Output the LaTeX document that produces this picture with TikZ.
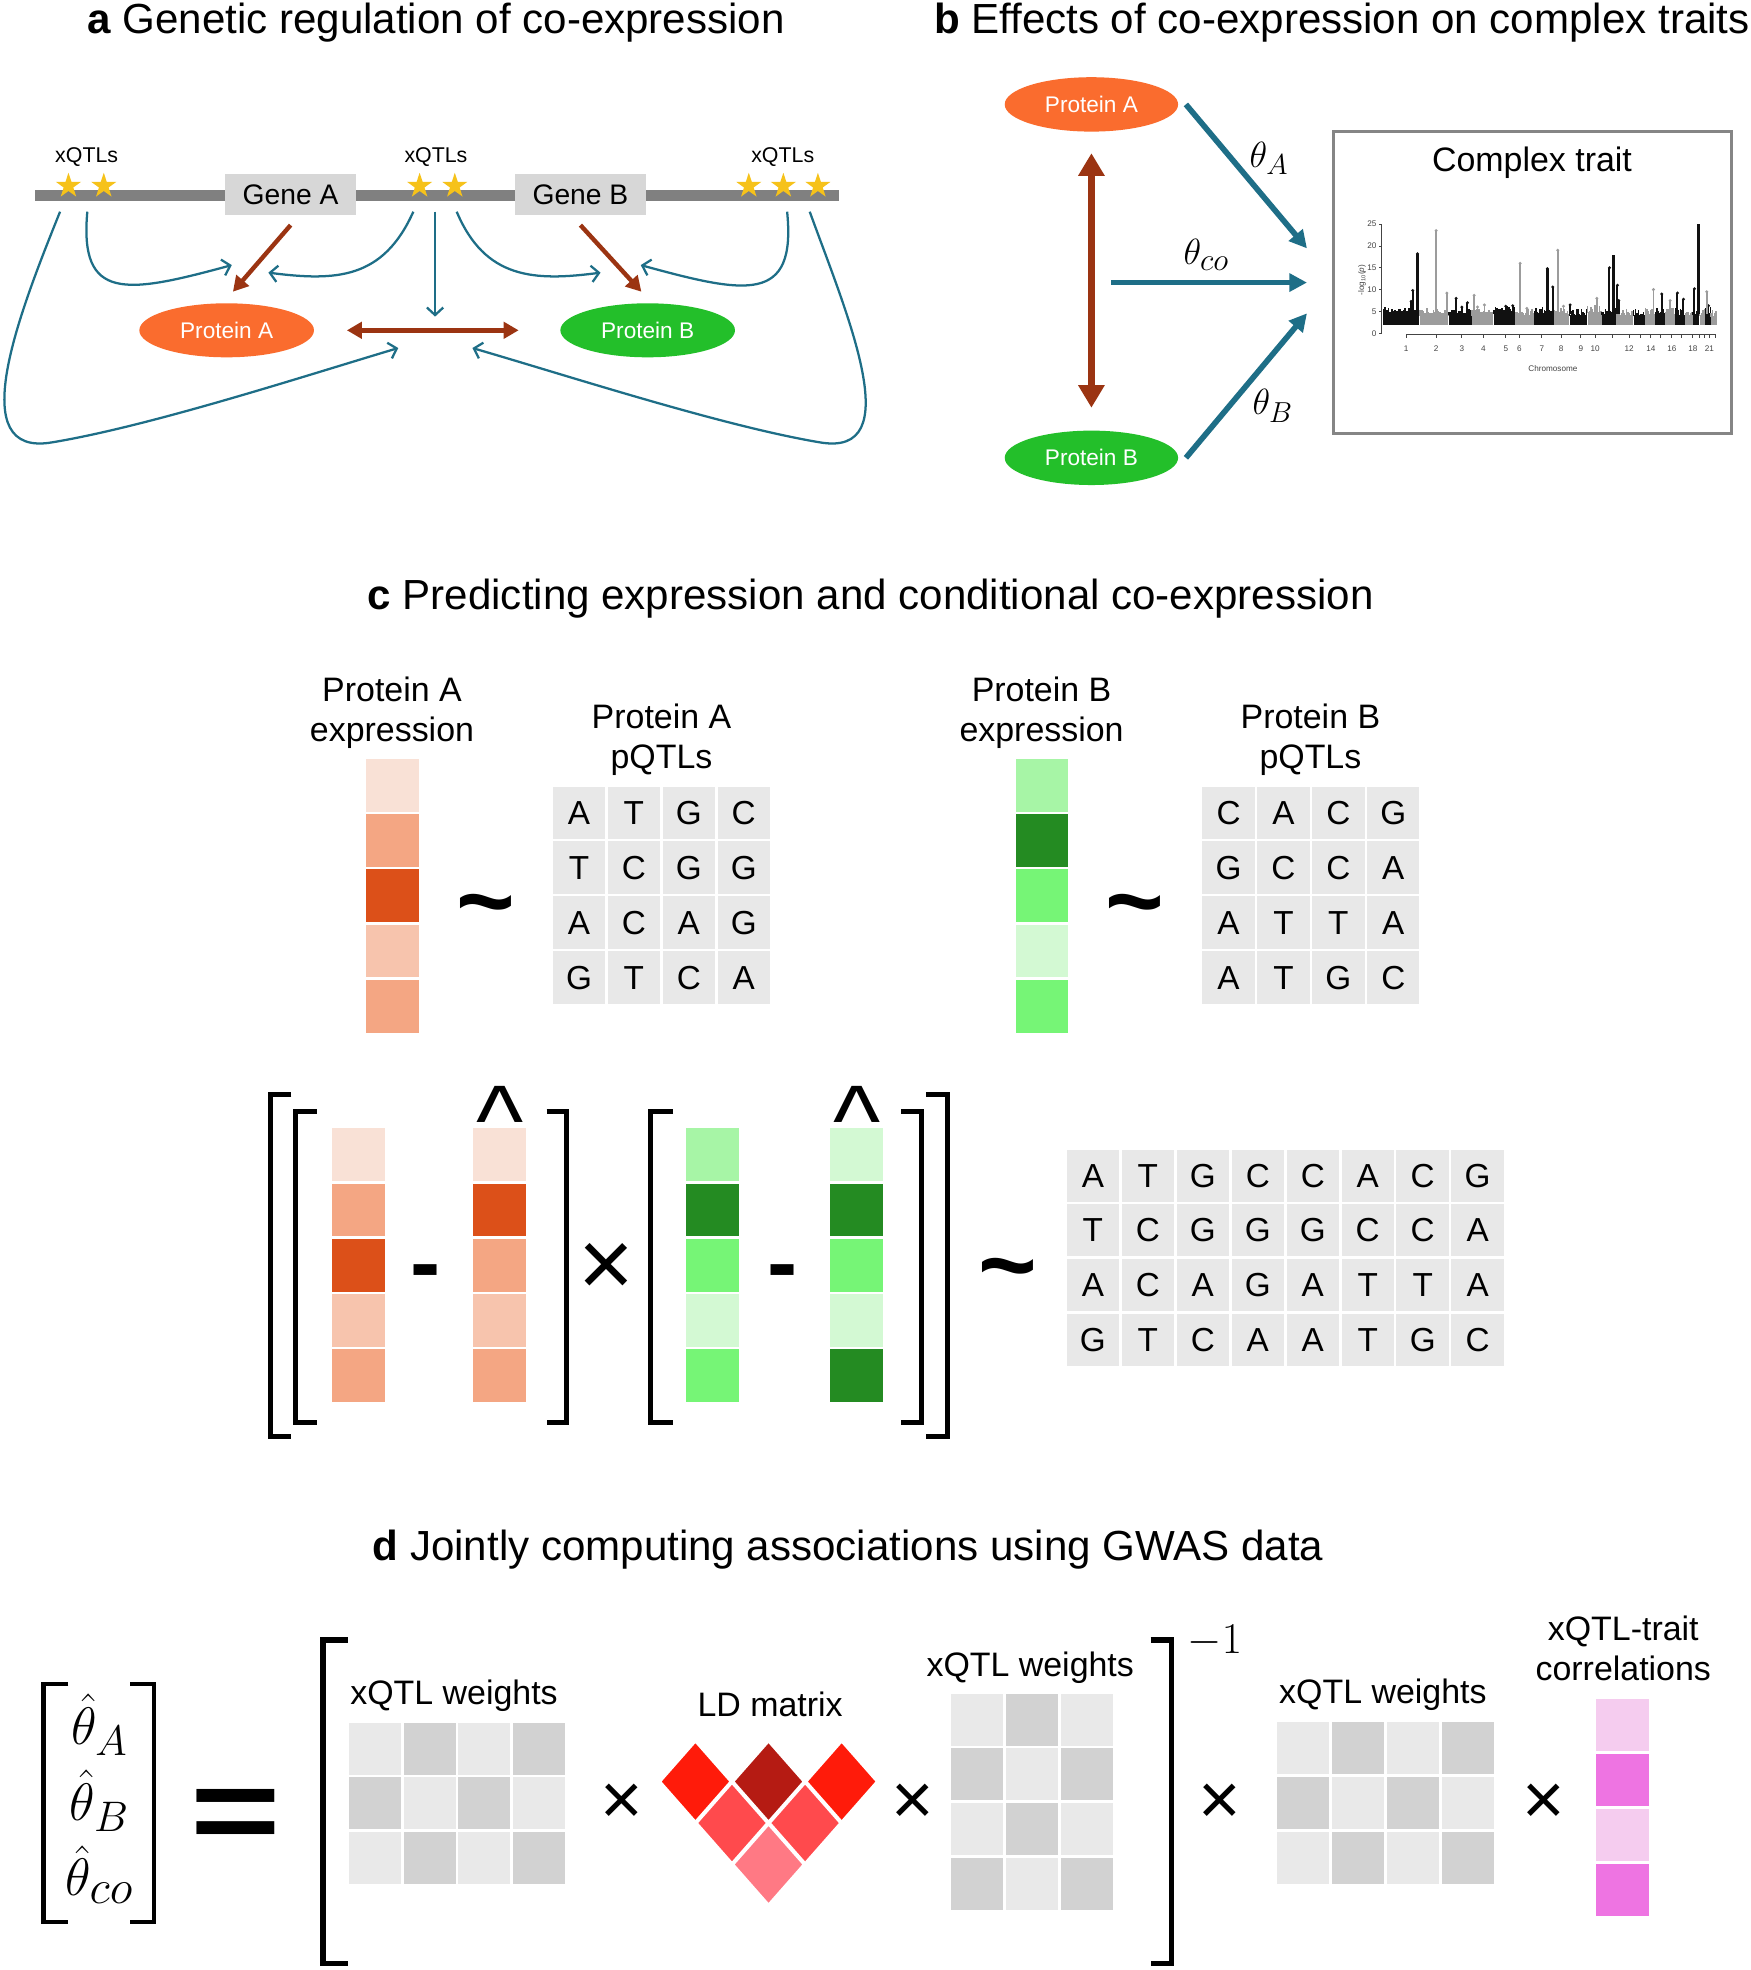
\RequirePackage{fix-cm}
\documentclass[tikz,border=0pt]{standalone}
\usepackage[no-math]{fontspec}
\setmainfont{Liberation Sans}
\usetikzlibrary{shapes.geometric,arrows.meta,calc}

\definecolor{tealc}{HTML}{1E6E87}
\definecolor{brownc}{HTML}{9B3412}
\definecolor{orP}{HTML}{FA6C2E}
\definecolor{grP}{HTML}{23BF2A}
\definecolor{starY}{HTML}{F6C21A}
\definecolor{barG}{HTML}{808080}
\definecolor{geneG}{HTML}{D7D7D7}
\definecolor{cellG}{HTML}{E8E8E8}
\definecolor{wDark}{HTML}{D2D2D2}
\definecolor{wLight}{HTML}{E9E9E9}
\definecolor{or1}{HTML}{F9E1D6}
\definecolor{or2}{HTML}{F4A683}
\definecolor{or3}{HTML}{DC5019}
\definecolor{or4}{HTML}{F7C4AD}
\definecolor{gr1}{HTML}{A7F5A6}
\definecolor{gr2}{HTML}{248B22}
\definecolor{gr3}{HTML}{76F576}
\definecolor{gr4}{HTML}{D3F9D3}
\definecolor{ld1}{HTML}{FF1B0A}
\definecolor{ld2}{HTML}{B51B13}
\definecolor{ld3}{HTML}{FF4A4D}
\definecolor{ld4}{HTML}{FF7984}
\definecolor{pk1}{HTML}{F5CCEF}
\definecolor{pk2}{HTML}{EE74E2}
\definecolor{boxG}{HTML}{858585}
\definecolor{mblk}{HTML}{111111}
\definecolor{mgry}{HTML}{9C9C9C}
\definecolor{axG}{HTML}{444444}

\newcommand\sbx[2]{\mbox{\fontsize{#1}{#1}\selectfont$#2$}}

\tikzset{
  ttl/.style={font=\fontsize{33.5}{40}\selectfont, anchor=base, inner sep=0},
  lbl/.style={font=\fontsize{27}{32.4}\selectfont, align=center, inner sep=0},
  lblb/.style={font=\fontsize{27}{32.4}\selectfont, anchor=base, inner sep=0},
  xq/.style={font=\fontsize{17}{20}\selectfont, anchor=base, inner sep=0},
  gene/.style={rectangle, fill=geneG, minimum width=104pt, minimum height=32.5pt, inner sep=0, font=\fontsize{22.5}{27}\selectfont},
  prot/.style={ellipse, minimum width=139pt, minimum height=43pt, inner sep=0, text=white, font=\fontsize{18}{22}\selectfont},
  qstar/.style={star, star points=5, star point ratio=2.6, fill=starY, minimum size=21pt, inner sep=0},
  tealthin/.style={draw=tealc, line width=1.8pt, -{Straight Barb[length=6pt,width=13pt]}},
  brownA/.style={draw=brownc, line width=3.5pt, -{Triangle[length=12pt,width=13pt]}},
  brownAA/.style={draw=brownc, line width=4pt, {Triangle[length=12pt,width=13pt]}-{Triangle[length=12pt,width=13pt]}},
  tealthick/.style={draw=tealc, line width=4.5pt, -{Triangle[length=14pt,width=14pt]}},
  brownB/.style={draw=brownc, line width=5pt, {Triangle[length=18pt,width=20pt]}-{Triangle[length=18pt,width=20pt]}},
  thlab/.style={font=\fontsize{29}{30}\selectfont, inner sep=0},
  gcell/.style={rectangle, fill=cellG, draw=white, line width=2pt, minimum width=43.7pt, minimum height=43.75pt, inner sep=0, font=\fontsize{26.5}{30}\selectfont},
  ccell/.style={rectangle, draw=white, line width=2pt, minimum width=44pt, minimum height=44pt, inner sep=0},
  wcell/.style={rectangle, draw=white, line width=2pt, minimum width=43.5pt, minimum height=43.5pt, inner sep=0},
  brk/.style={line width=4pt},
  ldd/.style={diamond, draw=white, line width=2.5pt, minimum width=58.2pt, minimum height=66pt, inner sep=0},
  sym/.style={inner sep=0},
  mtick/.style={font=\fontsize{6.5}{7}\selectfont, text=axG, inner sep=0},
}

\begin{document}
\begin{tikzpicture}[x=1pt,y=-1pt]
\useasboundingbox (0,0) rectangle (1393,1568);
\fill[white] (0,0) rectangle (1393,1568);

% ---------------- titles
\node[ttl] (ta) at (347,27) {\textbf{a} Genetic regulation of co-expression};
\node[ttl] (tb) at (1068,27) {\textbf{b} Effects of co-expression on complex traits};
\node[ttl] (tc) at (693,485) {\textbf{c} Predicting expression and conditional co-expression};
\node[ttl] (td) at (675,1242) {\textbf{d} Jointly computing associations using GWAS data};

% ---------------- panel a
\draw[barG, line width=8.5pt] (27.9,155.5) -- (668,155.5);
\node[gene] (gA) at (231.3,154.75) {Gene A};
\node[gene] (gB) at (462,154.75) {Gene B};
\foreach \sx [count=\i] in {54.5,82.6,334,362,596,623.5,651}
  \node[qstar] (st\i) at (\sx,148) {};
\node[xq] (xq1) at (69,129) {xQTLs};
\node[xq] (xq2) at (347,129) {xQTLs};
\node[xq] (xq3) at (623,129) {xQTLs};
\node[prot, fill=orP] (pa) at (180.4,262.9) {Protein A};
\node[prot, fill=grP] (pb) at (515.5,262.9) {Protein B};

\draw[brownA] ($(gA.south)+(0,8)$) -- ($(pa.north)+(5,-9)$);
\draw[brownA] ($(gB.south)+(0,8)$) -- ($(pb.north)+(-5,-9)$);
\draw[brownAA] ($(pa.east)+(26,0)$) -- ($(pb.west)+(-33,0)$);

\coordinate (a1s) at (69.5,168.5);  \coordinate (a1e) at (184.5,211);
\coordinate (a2s) at (329,168.5);   \coordinate (a2e) at (213.6,217);
\coordinate (a3s) at (346.3,168.5); \coordinate (a3e) at (346.3,252);
\coordinate (a4s) at (363.5,168.5); \coordinate (a4e) at (478,217);
\coordinate (a5s) at (626.5,168.5); \coordinate (a5e) at (510,211);
\coordinate (a6s) at (47.8,168.5);  \coordinate (a6e) at (317,277);
\coordinate (a7s) at (644.5,168.5); \coordinate (a7e) at (376,277);
\draw[tealthin] (a1s) .. controls (63,240) and (100,234) .. (a1e);
\draw[tealthin] (a2s) .. controls (305,222) and (268,224) .. (a2e);
\draw[tealthin] (a3s) -- (a3e);
\draw[tealthin] (a4s) .. controls (386,222) and (425,224) .. (a4e);
\draw[tealthin] (a5s) .. controls (634,242) and (594,234) .. (a5e);
\draw[tealthin] (a6s) .. controls (15,250) and (-30,365) .. (42,352) .. controls (120,339) and (240,300) .. (a6e);
\draw[tealthin] (a7s) .. controls (674,250) and (724,365) .. (652,352) .. controls (575,339) and (455,300) .. (a7e);

% ---------------- panel b
\node[prot, fill=orP, minimum width=138pt, minimum height=43.3pt] (pbA) at (868.7,83.1) {Protein A};
\node[prot, fill=grP, minimum width=138pt, minimum height=43.3pt] (pbB) at (868.7,364.4) {Protein B};
\draw[brownB] ($(pbA.south)+(0,17)$) -- ($(pbB.north)+(0,-18)$);
\node[draw=boxG, line width=2.2pt, minimum width=317pt, minimum height=240pt, inner sep=0] (trait) at (1219.85,224.9) {};
\coordinate (bAe) at ($(trait.west)+(-20,-27.2)$);
\coordinate (bCs) at (884.3,224.9);
\coordinate (bCe) at ($(trait.west)+(-20,0)$);
\coordinate (bBe) at ($(trait.west)+(-20,24.5)$);
\draw[tealthick] ($(pbA.east)+(6,0)$) -- (bAe);
\draw[tealthick] (bCs) -- (bCe);
\draw[tealthick] ($(pbB.east)+(6,0)$) -- (bBe);
\node[thlab] (thA) at (1010,126) {$\theta_{\sbx{23}{A}}$};
\node[thlab] (thC) at (960,203) {$\theta_{\sbx{25}{co}}$};
\node[thlab] (thB) at (1013,323) {$\theta_{\sbx{23}{B}}$};
\node[lblb] (ctl) at (1219.4,136.6) {Complex trait};

% Manhattan plot
\pgfmathsetseed{11}
\begin{scope}[shift={(1058.7,265.3)}, x=0.2653pt, y=3.48pt]
\foreach \a/\b/\h/\cl in {160/268/4.6/mblk, 270/355/4.3/mgry, 356/425/4.4/mblk, 426/490/4.3/mgry,
  491/555/4.8/mblk, 556/612/4.3/mgry, 613/672/4.7/mblk, 673/718/4.4/mgry, 719/772/4.3/mblk,
  773/815/4.9/mgry, 816/858/4.5/mblk, 859/910/4.2/mgry, 911/945/4.2/mblk, 946/975/4.5/mgry,
  976/1005/4.6/mblk, 1006/1035/4.5/mgry, 1036/1065/4.3/mblk, 1066/1088/4.3/mgry, 1089/1108/4.4/mblk,
  1109/1125/4.3/mgry, 1126/1142/4.6/mblk, 1143/1160/4.0/mgry}
  {\fill[\cl] (\a,1.8) rectangle (\b,\h);
   \pgfmathsetmacro\an{\a+5}
   \foreach \xx in {\a,\an,...,\b}
     {\pgfmathsetmacro\hh{\h+0.2+1.3*rnd}
      \draw[\cl, line width=1.1pt] (\xx,\h-0.3) -- (\xx,\hh);}}
\foreach \p/\v in {243/7.3, 248/9.8, 262/18.2, 378/8, 395/6, 412/7, 527/6.2, 548/6.3, 652/14.8, 668/10.6,
  720/6.5, 838/15, 862/11, 866/7.5, 995/9, 1042/9.2, 1060/7.8, 1093/10.2, 1135/6.3}
  {\draw[mblk, line width=1.6pt] (\p,4.5) -- (\p,\v); \fill[mblk] (\p,\v) circle (1.3pt);}
\foreach \p/\v in {318/23.5, 350/9.2, 432/8.7, 442/6, 463/6.5, 570/16, 590/5.7, 683/19, 700/6.2, 800/8,
  970/10, 1020/7.5, 1130/9.5}
  {\draw[mgry, line width=1.3pt] (\p,4.5) -- (\p,\v); \fill[mgry] (\p,\v) circle (1.3pt);}
\draw[mblk, line width=2.4pt] (1105,4.5) -- (1105,25);
\draw[mblk, line width=2.2pt] (850,4.5) -- (850,18);
\draw[mblk, line width=2.2pt] (262,4.5) -- (262,18.2);
\draw[mblk, line width=2pt] (652,4.5) -- (652,14.8);
\draw[axG, line width=0.5pt] (155,0) -- (155,25);
\foreach \v in {0,5,10,15,20,25}
  {\draw[axG, line width=0.5pt] (155,\v) -- ++(-2.2pt,0pt);
   \node[mtick, anchor=east] (yt\v) at ([xshift=-4pt]155,\v) {\v};}
\draw[axG, line width=0.5pt] (228,-0.25) -- (1155,-0.25);
\foreach \p in {228,318,395,460,527,568,635,693,752,795,848,897,930,962,992,1025,1055,1088,1108,1122,1138,1155}
  \draw[axG, line width=0.5pt] (\p,-0.25) -- ++(0pt,-2.5pt);
\foreach \p/\t in {228/1,318/2,395/3,460/4,527/5,568/6,635/7,693/8,752/9,795/10,897/12,962/14,1025/16,1088/18,1138/21}
  \node[mtick, anchor=north] (xt\t) at ([yshift=-9pt]\p,-0.25) {\t};
\end{scope}
\node[mtick] (chrl) at (1236,293.7) {Chromosome};
\node[mtick, rotate=90] (ylab) at (1084,223) {-log\textsubscript{10}(\textit{p})};

% ---------------- panel c (top)
\node[lbl] (lea) at (312,567.2) {Protein A\\expression};
\node[lbl] (lqa) at (526.5,588.7) {Protein A\\pQTLs};
\node[lbl] (leb) at (829,567.2) {Protein B\\expression};
\node[lbl] (lqb) at (1043,588.7) {Protein B\\pQTLs};
\foreach \cl [count=\i from 0] in {or1,or2,or3,or4,or2}
  \node[ccell, fill=\cl] (ea\i) at (312.5,{603+44*(\i+0.5)}) {};
\foreach \cl [count=\i from 0] in {gr1,gr2,gr3,gr4,gr3}
  \node[ccell, fill=\cl] (eb\i) at (829.3,{603+44*(\i+0.5)}) {};
\foreach \row [count=\ri from 0] in {{A,T,G,C},{T,C,G,G},{A,C,A,G},{G,T,C,A}}
  \foreach \lt [count=\ci from 0] in \row
    \node[gcell] (qa\ri\ci) at ({439+43.7*(\ci+0.5)},{625+43.75*(\ri+0.5)}) {\lt};
\foreach \row [count=\ri from 0] in {{C,A,C,G},{G,C,C,A},{A,T,T,A},{A,T,G,C}}
  \foreach \lt [count=\ci from 0] in \row
    \node[gcell] (qb\ri\ci) at ({956+43.7*(\ci+0.5)},{625+43.75*(\ri+0.5)}) {\lt};
\node[sym, font=\fontsize{80}{80}\selectfont\bfseries] (tl1) at (387,728) {\textasciitilde};
\node[sym, font=\fontsize{80}{80}\selectfont\bfseries] (tl2) at (903.6,728) {\textasciitilde};

% ---------------- panel c (middle)
\foreach \cl [count=\i from 0] in {or1,or2,or3,or4,or2}
  \node[ccell, fill=\cl] (oc1\i) at (285.5,{897+44*(\i+0.5)}) {};
\foreach \cl [count=\i from 0] in {or1,or3,or2,or4,or2}
  \node[ccell, fill=\cl] (oc2\i) at (397.6,{897+44*(\i+0.5)}) {};
\foreach \cl [count=\i from 0] in {gr1,gr2,gr3,gr4,gr3}
  \node[ccell, fill=\cl] (gc1\i) at (567,{897+44*(\i+0.5)}) {};
\foreach \cl [count=\i from 0] in {gr4,gr2,gr3,gr4,gr2}
  \node[ccell, fill=\cl] (gc2\i) at (682,{897+44*(\i+0.5)}) {};
\draw[brk] (232,871) -- (215.3,871) -- (215.3,1143) -- (232,1143);
\draw[brk] (252,885) -- (235,885) -- (235,1132) -- (252,1132);
\draw[brk] (435,885) -- (451,885) -- (451,1132) -- (435,1132);
\draw[brk] (535.7,885) -- (517.4,885) -- (517.4,1132) -- (535.7,1132);
\draw[brk] (717.4,885) -- (733.7,885) -- (733.7,1132) -- (717.4,1132);
\draw[brk] (737,871) -- (754,871) -- (754,1143) -- (737,1143);
\node[sym, font=\fontsize{72}{72}\selectfont\bfseries] (mn1) at (339,1018) {-};
\node[sym, font=\fontsize{72}{72}\selectfont\bfseries] (mn2) at (623,1018) {-};
\node[sym, font=\fontsize{80}{80}\selectfont] (ht1) at (398,892) {\textasciicircum};
\node[sym, font=\fontsize{80}{80}\selectfont] (ht2) at (682,892) {\textasciicircum};
\node[sym, font=\fontsize{76}{76}\selectfont] (mx1) at (483,1011) {×};
\node[sym, font=\fontsize{80}{80}\selectfont\bfseries] (tl3) at (802,1018) {\textasciitilde};
\foreach \row [count=\ri from 0] in {{A,T,G,C,C,A,C,G},{T,C,G,G,G,C,C,A},{A,C,A,G,A,T,T,A},{G,T,C,A,A,T,G,C}}
  \foreach \lt [count=\ci from 0] in \row
    \node[gcell, minimum width=43.75pt, minimum height=43.5pt] (qc\ri\ci) at ({848+43.75*(\ci+0.5)},{914+43.5*(\ri+0.5)}) {\lt};

% ---------------- panel d
\draw[brk, line width=3.6pt] (54.4,1340.5) -- (34.5,1340.5) -- (34.5,1529.7) -- (54.4,1529.7);
\draw[brk, line width=3.6pt] (103.5,1340.5) -- (122.6,1340.5) -- (122.6,1529.7) -- (103.5,1529.7);
\node[sym, font=\fontsize{42}{60.3}\selectfont, align=center, anchor=north] (thv) at (79,1348)
  {$\hat{\theta}_{\sbx{34}{A}}$\\$\hat{\theta}_{\sbx{34}{B}}$\\$\hat{\theta}_{\sbx{38}{co}}$};
\node[sym, font=\fontsize{95}{95}\selectfont\bfseries] (eq) at (188,1449) {\scalebox{1.3}[1]{=}};
\draw[brk, line width=4.2pt] (276.8,1305.4) -- (257,1305.4) -- (257,1563) -- (276.8,1563);
\draw[brk, line width=4.2pt] (915.8,1305.4) -- (932.6,1305.4) -- (932.6,1563) -- (915.8,1563);
\node[sym, font=\fontsize{35}{35}\selectfont] (inv) at (967,1306) {$-1$};

\node[lblb] (wl1) at (361.4,1356.4) {xQTL weights};
\node[lblb] (wl2) at (820,1334.6) {xQTL weights};
\node[lblb] (wl3) at (1100.7,1356) {xQTL weights};
\node[lblb] (ldl) at (613,1366.4) {LD matrix};
\node[lbl] (corl) at (1292,1311.9) {xQTL-trait\\correlations};

\foreach \ri in {0,1,2}
  \foreach \ci in {0,1,2,3} {
    \pgfmathtruncatemacro\od{mod(\ri+\ci,2)}
    \ifnum\od=1 \def\cc{wDark}\else\def\cc{wLight}\fi
    \node[wcell, fill=\cc] (wa\ri\ci) at ({276.8+43.45*(\ci+0.5)},{1370+43.5*(\ri+0.5)}) {};
    \node[wcell, fill=\cc] (wc\ri\ci) at ({1015.3+43.7*(\ci+0.5)},{1369.5+43.7*(\ri+0.5)}) {};
  }
\foreach \ri in {0,1,2,3}
  \foreach \ci in {0,1,2} {
    \pgfmathtruncatemacro\od{mod(\ri+\ci,2)}
    \ifnum\od=1 \def\cc{wDark}\else\def\cc{wLight}\fi
    \node[wcell, fill=\cc] (wb\ri\ci) at ({755.7+43.8*(\ci+0.5)},{1347+43.5*(\ri+0.5)}) {};
  }

\node[ldd, fill=ld1] (ldA) at (553.5,1418) {};
\node[ldd, fill=ld2] (ldB) at (611.7,1418) {};
\node[ldd, fill=ld1] (ldC) at (669.9,1418) {};
\node[ldd, fill=ld3] (ldD) at (582.6,1451) {};
\node[ldd, fill=ld3] (ldE) at (640.8,1451) {};
\node[ldd, fill=ld4] (ldF) at (611.7,1484) {};

\foreach \cl [count=\i from 0] in {pk1,pk2,pk1,pk2}
  \node[ccell, fill=\cl, minimum height=43.75pt] (pk\i) at (1291.5,{1351+43.75*(\i+0.5)}) {};

\node[sym, font=\fontsize{58}{58}\selectfont] (mx2) at (495,1436) {×};
\node[sym, font=\fontsize{58}{58}\selectfont] (mx3) at (726.5,1436) {×};
\node[sym, font=\fontsize{58}{58}\selectfont] (mx4) at (971,1436) {×};
\node[sym, font=\fontsize{58}{58}\selectfont] (mx5) at (1228.8,1436) {×};
\end{tikzpicture}
\end{document}
